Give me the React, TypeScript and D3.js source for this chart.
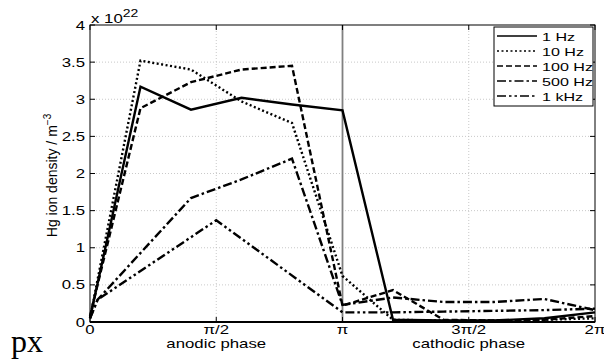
import React from "react";
import * as d3 from "d3";

// phase positions in units of pi
const xs1Hz = [0, 0.2, 0.4, 0.6, 0.8, 1.0, 1.2, 1.4, 1.6, 1.8, 2.0];
const y1Hz = [0.05, 3.17, 2.86, 3.02, 2.93, 2.85, 0.03, 0.02, 0.02, 0.05, 0.13];
const xs10Hz = [0, 0.2, 0.4, 0.6, 0.8, 1.0, 1.2, 1.4, 1.6, 1.8, 2.0];
const y10Hz = [0.05, 3.52, 3.4, 2.97, 2.68, 0.62, 0.03, 0.02, 0.02, 0.03, 0.05];
const xs100Hz = [0, 0.2, 0.4, 0.6, 0.8, 1.0, 1.2, 1.4, 1.6, 1.8, 2.0];
const y100Hz = [0.08, 2.88, 3.23, 3.4, 3.45, 0.22, 0.43, 0.03, 0.02, 0.03, 0.08];
const xs500Hz = [0, 0.03, 0.4, 0.6, 0.8, 1.0, 1.2, 1.4, 1.6, 1.8, 2.0];
const y500Hz = [0.05, 0.3, 1.67, 1.92, 2.2, 0.23, 0.33, 0.27, 0.27, 0.31, 0.16];
const xs1kHz = [0, 0.03, 0.5, 1.0, 1.2, 1.4, 1.6, 1.8, 2.0];
const y1kHz = [0.05, 0.3, 1.37, 0.13, 0.13, 0.14, 0.15, 0.16, 0.18];

const seriesNames = ["1 Hz", "10 Hz", "100 Hz", "500 Hz", "1 kHz"];
const dashes = ["none", "2,2.5", "6,3", "9,3,2.5,3", "9,3,2.5,3,2.5,3"];
const xTickVals = [0, 0.5, 1, 1.5, 2];
const xTickLabels = ["0", "π/2", "π", "3π/2", "2π"];
const yTickVals = [0, 0.5, 1, 1.5, 2, 2.5, 3, 3.5, 4];
const yTickLabels = ["0", "0.5", "1", "1.5", "2", "2.5", "3", "3.5", "4"];

const FONT = "'Liberation Sans', Arial, Helvetica, sans-serif";
const SX = 1.4;

export default function App() {
  const left = 90, right = 595, top = 25, bottom = 322;
  const x = d3.scaleLinear().domain([0, 2]).range([left, right]);
  const y = d3.scaleLinear().domain([0, 4]).range([bottom, top]);
  const allX = [xs1Hz, xs10Hz, xs100Hz, xs500Hz, xs1kHz];
  const allY = [y1Hz, y10Hz, y100Hz, y500Hz, y1kHz];
  const line = d3.line<[number, number]>().x((d) => x(d[0])).y((d) => y(d[1]));

  const txt = (tx: number, ty: number, s: string, anchor: string, size: number) => (
    <text
      transform={`translate(${tx},${ty}) scale(${SX},1)`}
      textAnchor={anchor}
      fontSize={size}
      fontFamily={FONT}
      fill="#000"
    >
      {s}
    </text>
  );

  const legX = 494, legY = 27, legW = 99, legH = 79;
  return (
    <svg width={604} height={360} style={{ position: "absolute", left: 0, top: 0, background: "#fff" }}>
      <rect x={0} y={0} width={604} height={360} fill="#fff" />
      {/* grid */}
      {xTickVals.slice(1, -1).map((v, i) => (
        <line key={"gx" + i} x1={x(v)} x2={x(v)} y1={top} y2={bottom} stroke="#bbb" strokeWidth={0.8} strokeDasharray="1,2" />
      ))}
      {yTickVals.slice(1, -1).map((v, i) => (
        <line key={"gy" + i} x1={left} x2={right} y1={y(v)} y2={y(v)} stroke="#bbb" strokeWidth={0.8} strokeDasharray="1,2" />
      ))}
      {/* pi divider */}
      <line x1={x(1)} x2={x(1)} y1={top} y2={bottom} stroke="#808080" strokeWidth={1.8} />
      {/* series */}
      {allX.map((xsArr, i) => (
        <path
          key={"s" + i}
          d={line(xsArr.map((v, j) => [v, allY[i][j]] as [number, number])) || ""}
          fill="none"
          stroke="#000"
          strokeWidth={2.4}
          strokeDasharray={dashes[i]}
        />
      ))}
      {/* box */}
      <rect x={left} y={top} width={right - left} height={bottom - top} fill="none" stroke="#000" strokeWidth={1} />
      <line x1={left} x2={right} y1={bottom} y2={bottom} stroke="#000" strokeWidth={2} />
      {/* ticks */}
      {yTickVals.map((v, i) => (
        <g key={"yt" + i}>
          <line x1={left} x2={left + 5} y1={y(v)} y2={y(v)} stroke="#000" />
          <line x1={right} x2={right - 5} y1={y(v)} y2={y(v)} stroke="#000" />
          {txt(left - 5, y(v) + 4.5, yTickLabels[i], "end", 12)}
        </g>
      ))}
      {xTickVals.map((v, i) => (
        <g key={"xt" + i}>
          <line x1={x(v)} x2={x(v)} y1={bottom} y2={bottom - 5} stroke="#000" />
          <line x1={x(v)} x2={x(v)} y1={top} y2={top + 5} stroke="#000" />
          {txt(x(v), bottom + 12, xTickLabels[i], "middle", 12)}
        </g>
      ))}
      {txt(x(0.5), bottom + 26, "anodic phase", "middle", 12)}
      {txt(x(1.5), bottom + 26, "cathodic phase", "middle", 12)}
      {/* exponent */}
      <text transform={`translate(${left + 1},${top - 2}) scale(${SX},1)`} fontSize={12} fontFamily={FONT}>
        x 10<tspan dy={-6} fontSize={10}>22</tspan>
      </text>
      {/* y label */}
      <text transform={`translate(57,${(top + bottom) / 2 + 2}) rotate(-90)`} textAnchor="middle" fontSize={14} fontFamily={FONT}>
        Hg ion density / m<tspan dy={-6} fontSize={10}>−3</tspan>
      </text>
      {/* legend */}
      <rect x={legX} y={legY} width={legW} height={legH} fill="#fff" stroke="#000" strokeWidth={1} />
      {seriesNames.map((n, i) => {
        const ly = legY + 9 + i * 15;
        return (
          <g key={"lg" + i}>
            <line x1={497} x2={537} y1={ly} y2={ly} stroke="#000" strokeWidth={1.6} strokeDasharray={dashes[i]} />
            {txt(542, ly + 4.5, n, "start", 11.5)}
          </g>
        );
      })}
      {/* stray label */}
      <text x={11} y={352} fontSize={32} fontFamily="'Liberation Serif', 'DejaVu Serif', serif">px</text>
    </svg>
  );
}
